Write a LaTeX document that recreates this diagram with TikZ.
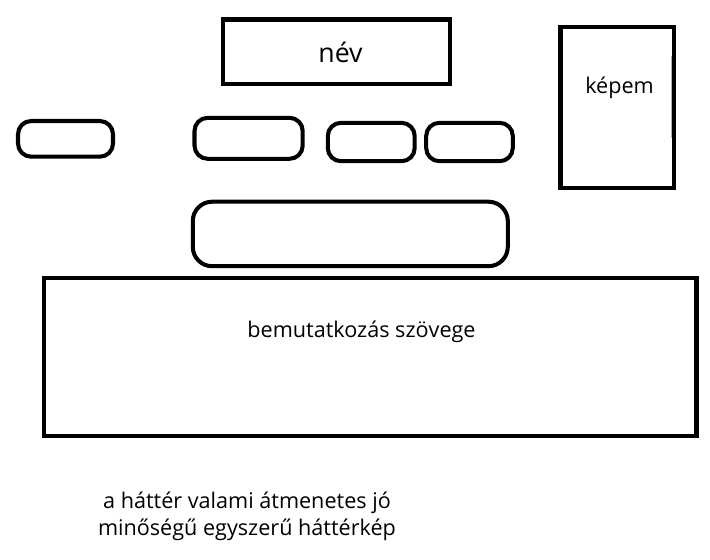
\documentclass[tikz,border=0pt]{standalone}
\usepackage{fontspec}
\setmainfont{Open Sans}
\usepackage{tikz}
\usetikzlibrary{calc}

\begin{document}
\begin{tikzpicture}[x=0.02cm, y=-0.02cm,
            keret/.style={draw, line width=2.3pt},
            gomb/.style={draw, line width=2.3pt, rounded corners=7.5pt},
            felirat/.style={inner sep=0pt, anchor=base, font=\fontsize{12.3}{15.3}\selectfont}]
            \useasboundingbox (0, 0) rectangle (710, 559);
            \draw [keret] (223, 19.5) rectangle (450.3, 83.8);
            \draw [keret] (560.5, 27) rectangle (674, 188);
            \draw [gray!60, line width=0.7pt] (671.3, 56) -- (671.3, 138);
            \draw [gomb] (18, 121) rectangle (113, 156.7);
            \draw [gomb] (194.5, 117.8) rectangle (302.7, 158.8);
            \draw [gomb] (327.8, 122.8) rectangle (414.7, 161.2);
            \draw [gomb] (426.2, 122.8) rectangle (512.8, 161.2);
            \draw [gomb, rounded corners=11pt] (192.8, 201.7) rectangle (507.8, 266.2);
            \draw [keret] (44, 278) rectangle (696.5, 436);
            \node [felirat, font=\fontsize{15.2}{18}\selectfont] (nev) at (340.5, 62) {név};
            \node [felirat] (kepem) at (619.5, 93) {képem};
            \node [felirat] (bemutatkozas) at (361.5, 337) {bemutatkozás szövege};
            \node [felirat, anchor=center, align=center] (hatter) at (247, 516.5)
                {a háttér valami átmenetes jó\\ minőségű egyszerű háttérkép};
        \end{tikzpicture}
\end{document}
